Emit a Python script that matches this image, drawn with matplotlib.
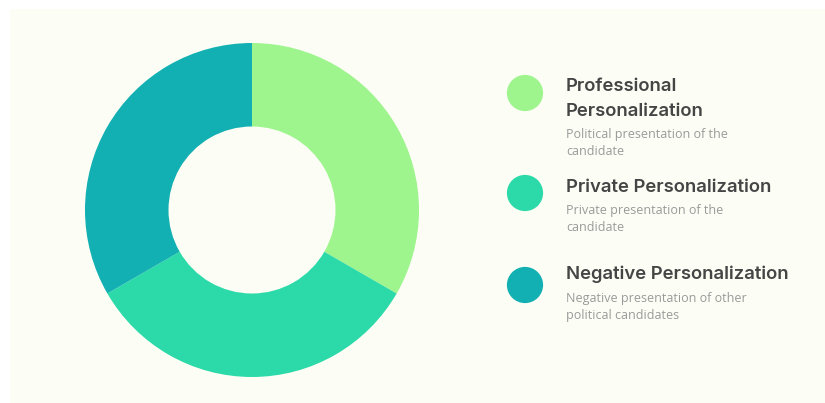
import matplotlib.pyplot as plt
from matplotlib.patches import Rectangle

categories = ["Professional\nPersonalization", "Private Personalization", "Negative Personalization"]
descriptions = ["Political presentation of the\ncandidate",
                "Private presentation of the\ncandidate",
                "Negative presentation of other\npolitical candidates"]
shares = [1, 1, 1]
colors = ["#9ef58d", "#2cdaa9", "#12b0b2"]

W, H = 825, 403


def main():
    fig = plt.figure(figsize=(W / 100, H / 100), dpi=100, facecolor="white")

    # full-figure pixel axes for background and legend
    bg = fig.add_axes([0, 0, 1, 1])
    bg.set_xlim(0, W)
    bg.set_ylim(H, 0)
    bg.axis("off")
    bg.add_patch(Rectangle((10, 9), W - 10, H - 9, facecolor="#fcfdf5", edgecolor="none"))

    # donut
    cx, cy, r = 252, 210, 167
    ax = fig.add_axes([(cx - r) / W, (H - cy - r) / H, 2 * r / W, 2 * r / H])
    ax.pie(shares, colors=colors, startangle=90, counterclock=False,
           wedgeprops=dict(width=0.5, linewidth=0))
    ax.set_xlim(-1, 1)
    ax.set_ylim(-1, 1)
    ax.axis("off")

    # legend entries (baselines in pixels)
    marker_y = [93, 193, 285]
    title_base = [91, 192, 279]
    desc_base = [138, 214, 302]
    for i in range(3):
        bg.scatter(525, marker_y[i], s=680, color=colors[i], edgecolors="none")
        for j, line in enumerate(categories[i].split("\n")):
            bg.text(566, title_base[i] + 25 * j, line, fontsize=13.3, fontweight="semibold",
                    family="Inter", color="#454545", va="baseline")
        for j, line in enumerate(descriptions[i].split("\n")):
            bg.text(566, desc_base[i] + 17 * j, line, fontsize=9, family="Open Sans",
                    color="#9a9a9a", va="baseline")

    fig.savefig("out.png", dpi=100, facecolor=fig.get_facecolor())


if __name__ == "__main__":
    main()
